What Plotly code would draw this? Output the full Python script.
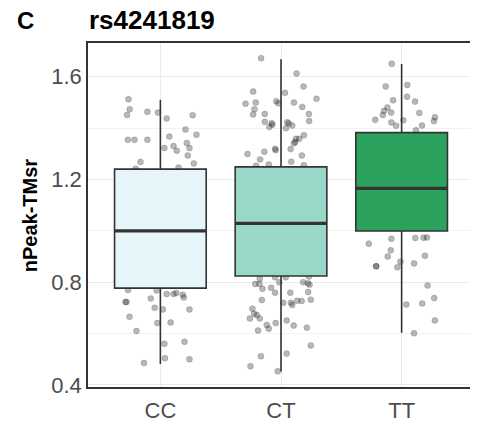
import plotly.graph_objects as go

# ---------------- data ----------------
categories = ["CC", "CT", "TT"]
cat_pos = [1, 2, 3]

# box statistics
lower_fence = [0.482, 0.452, 0.603]
q1_vals = [0.777, 0.824, 0.999]
median_vals = [1.000, 1.029, 1.165]
q3_vals = [1.240, 1.249, 1.382]
upper_fence = [1.510, 1.668, 1.649]

box_colors = ["#E5F5F9", "#99D8C9", "#2CA25F"]

# jittered points: horizontal jitter (category units) and value
cc_jitter = [-0.264, -0.254, -0.276, -0.108, -0.020, 0.052, 0.268, 0.208, 0.299, -0.270,
             -0.215, -0.108, 0.074, 0.109, 0.033, 0.136, 0.219, 0.241, 0.227, -0.165,
             0.277, 0.151, -0.204,
             -0.268, -0.031, 0.052, 0.109, 0.132, 0.186, 0.194, -0.080, -0.289, -0.281,
             -0.047, 0.021, 0.241, -0.256, -0.025, 0.085, -0.198, 0.033, 0.200, 0.038,
             0.241, -0.136]
cc_values = [1.512, 1.473, 1.451, 1.463, 1.460, 1.437, 1.450, 1.394, 1.374, 1.354,
             1.354, 1.354, 1.367, 1.330, 1.322, 1.312, 1.342, 1.322, 1.293, 1.268,
             1.262, 1.246, 1.242,
             0.770, 0.768, 0.754, 0.754, 0.758, 0.751, 0.740, 0.736, 0.723, 0.723,
             0.700, 0.694, 0.694, 0.665, 0.641, 0.643, 0.610, 0.560, 0.568, 0.504,
             0.500, 0.485]

ct_jitter = [-0.165, 0.129, 0.187, -0.231, 0.033, 0.294, -0.294, -0.209, -0.039, -0.022,
             0.107, 0.176, -0.220, -0.231, -0.134, 0.231, 0.233, -0.134, -0.077, -0.072,
             -0.096, 0.052, 0.064, 0.093, 0.041, 0.190, 0.124, 0.151, 0.107, 0.118,
             0.080, -0.049, -0.044, -0.138, -0.278, 0.173, -0.173, 0.085, -0.101, -0.206,
             0.190,
             -0.176, -0.214, -0.179, -0.049, -0.014, 0.039, 0.184, 0.223, 0.237, 0.231,
             -0.154, -0.082, -0.049, 0.077, 0.225, -0.159, 0.019, 0.082, 0.093, 0.134,
             0.171, 0.247, -0.237, -0.223, -0.200, -0.258, -0.176, 0.047, -0.044, -0.118,
             -0.101, 0.105, 0.214, -0.190, 0.247, 0.047, -0.167, -0.253, -0.027]
ct_values = [1.672, 1.612, 1.562, 1.542, 1.537, 1.514, 1.495, 1.499, 1.504, 1.496,
             1.499, 1.482, 1.473, 1.453, 1.455, 1.455, 1.427, 1.424, 1.419, 1.413,
             1.404, 1.423, 1.418, 1.410, 1.399, 1.372, 1.358, 1.358, 1.341, 1.346,
             1.318, 1.319, 1.314, 1.308, 1.299, 1.293, 1.278, 1.269, 1.258, 1.253,
             1.255,
             0.813, 0.793, 0.793, 0.819, 0.800, 0.819, 0.800, 0.796, 0.790, 0.822,
             0.774, 0.778, 0.759, 0.759, 0.762, 0.731, 0.720, 0.720, 0.711, 0.728,
             0.727, 0.732, 0.697, 0.677, 0.672, 0.659, 0.659, 0.651, 0.641, 0.633,
             0.619, 0.631, 0.623, 0.612, 0.554, 0.522, 0.512, 0.473, 0.453]

tt_jitter = [-0.082, -0.132, 0.047, 0.045, -0.071, 0.111, -0.118, -0.145, -0.087, -0.156,
             0.146, 0.276, 0.268, -0.219, -0.085, -0.046, 0.014, 0.169, 0.119,
             -0.085, 0.113, 0.182, 0.210, -0.272, -0.090, -0.115, 0.193, -0.010, 0.103,
             -0.211, -0.211, -0.035, 0.215, 0.270, 0.039, 0.171, 0.276, 0.103]
tt_values = [1.650, 1.562, 1.568, 1.522, 1.508, 1.503, 1.480, 1.467, 1.460, 1.451,
             1.459, 1.442, 1.427, 1.432, 1.422, 1.409, 1.430, 1.410, 1.391,
             0.969, 0.972, 0.973, 0.974, 0.950, 0.924, 0.900, 0.903, 0.880, 0.873,
             0.862, 0.862, 0.858, 0.787, 0.738, 0.713, 0.717, 0.651, 0.601]

y_tick_vals = [0.4, 0.8, 1.2, 1.6]
y_tick_text = ["0.4", "0.8", "1.2", "1.6"]
y_minor_vals = [0.6, 1.0, 1.4]

panel_letter = "C"
title_text = "rs4241819"
y_title = "nPeak-TMsr"

# ---------------- figure ----------------
X_RANGE = [0.4, 3.6]
Y_RANGE = [0.392, 1.731]
BOX_WIDTH = 0.76
FONT = "Liberation Sans, Arial, sans-serif"
# the page body has an 8px margin, so the figure is 8px smaller on each axis
FIG_W, FIG_H = 470, 417
M_L, M_R, M_T, M_B = 80, 2, 35, 35
PLOT_W = FIG_W - M_L - M_R
PLOT_H = FIG_H - M_T - M_B

fig = go.Figure()

jitters = [cc_jitter, ct_jitter, tt_jitter]
values = [cc_values, ct_values, tt_values]
for pos, jit, vals in zip(cat_pos, jitters, values):
    fig.add_trace(go.Scatter(
        x=[pos + j for j in jit], y=vals, mode="markers",
        marker=dict(size=6, color="rgba(40,40,40,0.33)",
                    line=dict(width=0.6, color="rgba(0,0,0,0.25)")),
        xaxis="x", yaxis="y", showlegend=False, hoverinfo="skip"))

for i, pos in enumerate(cat_pos):
    fig.add_trace(go.Box(
        x=[pos], q1=[q1_vals[i]], median=[median_vals[i]], q3=[q3_vals[i]],
        lowerfence=[lower_fence[i]], upperfence=[upper_fence[i]],
        width=BOX_WIDTH, whiskerwidth=0, boxpoints=False,
        fillcolor=box_colors[i], line=dict(color="#333333", width=1.6),
        xaxis="x2", yaxis="y2", showlegend=False, hoverinfo="skip"))
    fig.add_trace(go.Scatter(
        x=[pos - BOX_WIDTH / 2, pos + BOX_WIDTH / 2], y=[median_vals[i]] * 2,
        mode="lines", line=dict(color="#333333", width=3.2),
        xaxis="x2", yaxis="y2", showlegend=False, hoverinfo="skip"))

fig.update_layout(
    width=FIG_W, height=FIG_H,
    margin=dict(l=M_L, r=M_R, t=M_T, b=M_B),
    paper_bgcolor="white", plot_bgcolor="white",
    font=dict(family=FONT, color="#4D4D4D"),
    xaxis=dict(range=X_RANGE, tickvals=cat_pos, ticktext=categories,
               tickfont=dict(size=22, color="#4D4D4D"), ticks="",
               ticklabelstandoff=3,
               showgrid=True, gridcolor="#EBEBEB", gridwidth=1.2, zeroline=False,
               showline=True, mirror=True, linecolor="#333333", linewidth=1.6),
    yaxis=dict(range=Y_RANGE, tickvals=y_tick_vals, ticktext=y_tick_text,
               tickfont=dict(size=22, color="#4D4D4D"), ticks="",
               ticklabelstandoff=0,
               showgrid=True, gridcolor="#EBEBEB", gridwidth=1.2, zeroline=False,
               minor=dict(tickvals=y_minor_vals, showgrid=True,
                          gridcolor="#F2F2F2", gridwidth=0.8),
               showline=True, mirror=True, linecolor="#333333", linewidth=1.6),
    xaxis2=dict(range=X_RANGE, overlaying="x", visible=False),
    yaxis2=dict(range=Y_RANGE, overlaying="y", visible=False),
    annotations=[
        dict(text="<b>" + panel_letter + "</b>", xref="paper", yref="paper",
             x=(8 - M_L) / PLOT_W, y=1 + (M_T - 12) / PLOT_H,
             xanchor="left", yanchor="middle", borderpad=0,
             showarrow=False, font=dict(size=24, color="black", family=FONT)),
        dict(text="<b>" + title_text + "</b>", xref="paper", yref="paper",
             x=0, y=1 + (M_T - 12) / PLOT_H, xanchor="left", yanchor="middle",
             borderpad=0,
             showarrow=False, font=dict(size=26, color="black", family=FONT)),
        dict(text="<b>" + y_title + "</b>", xref="paper", yref="paper", textangle=-90,
             x=(22 - M_L) / PLOT_W, y=0.5, xanchor="center", yanchor="middle",
             showarrow=False, font=dict(size=20, color="black", family=FONT)),
    ],
)

fig.write_html("out.html")
